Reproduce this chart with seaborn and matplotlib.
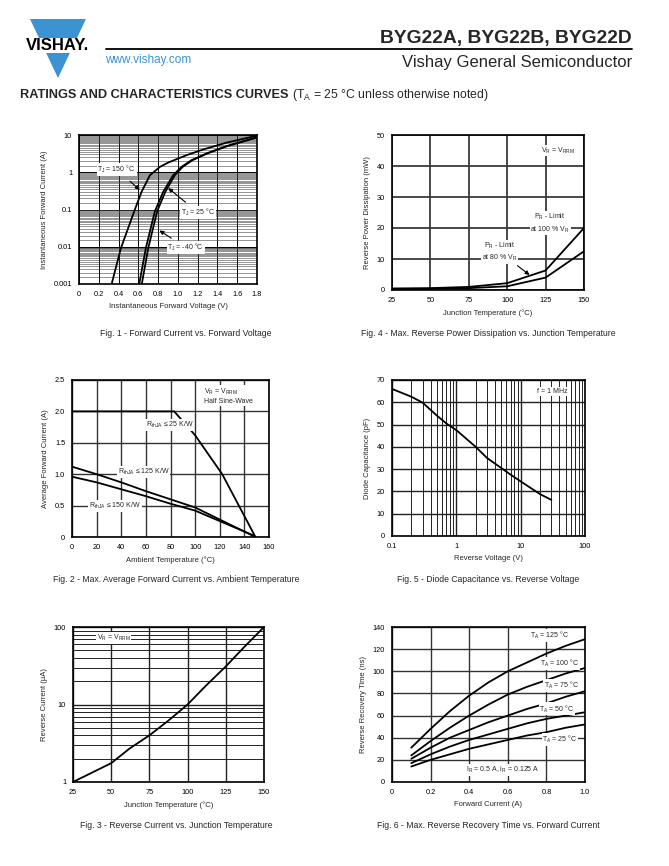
import numpy as np
import matplotlib
matplotlib.use('Agg')
import matplotlib.pyplot as plt
import seaborn as sns
from matplotlib.patches import Polygon, Rectangle
from matplotlib.lines import Line2D
from matplotlib.ticker import FixedLocator, NullFormatter

sns.set_theme(style='white')
plt.rcParams['font.family'] = ['Liberation Sans', 'DejaVu Sans']
plt.rcParams['mathtext.fontset'] = 'custom'
plt.rcParams['mathtext.rm'] = 'Liberation Sans'

# Fig. 1 - forward current vs forward voltage
vf_150 = [0.33, 0.424, 0.558, 0.632, 0.717, 0.818, 0.902, 1.087, 1.255, 1.49, 1.79]
if_150 = [0.001, 0.0092, 0.089, 0.295, 0.83, 1.39, 1.82, 2.87, 4.08, 6.2, 9.5]
vf_25 = [0.609, 0.676, 0.767, 0.851, 0.952, 1.036, 1.137, 1.289, 1.49, 1.79]
if_25 = [0.001, 0.0092, 0.089, 0.295, 0.83, 1.39, 2.1, 3.18, 5.0, 8.6]
vf_m40 = [0.635, 0.70, 0.79, 0.872, 0.968, 1.048, 1.145, 1.295, 1.495, 1.79]
if_m40 = [0.001, 0.0092, 0.089, 0.295, 0.83, 1.39, 2.1, 3.18, 5.0, 8.4]

# Fig. 4 - reverse power dissipation
tj4 = [25, 50, 75, 100, 125, 150]
pr_100 = [0.5, 0.6, 1.0, 2.2, 6.3, 20]
pr_80 = [0.3, 0.4, 0.6, 1.2, 4.0, 12.5]

# Fig. 2 - average forward current derating
ta_25 = [0, 83, 100, 122, 149]
iav_25 = [2.0, 2.0, 1.62, 1.0, 0.0]
ta_125 = [0, 20, 40, 60, 80, 100, 149]
iav_125 = [1.12, 1.0, 0.87, 0.73, 0.6, 0.47, 0.0]
ta_150 = [0, 20, 40, 60, 80, 100, 148]
iav_150 = [0.96, 0.87, 0.76, 0.65, 0.53, 0.42, 0.02]

# Fig. 5 - diode capacitance
vr5 = [0.1, 0.2, 0.3, 0.5, 0.7, 1, 2, 3, 5, 7, 10, 20, 30]
cd5 = [66, 62.5, 59.8, 54, 50.5, 47.5, 40, 35, 30.5, 27.5, 24.5, 18.8, 16.2]

# Fig. 3 - reverse current
tj3 = [25, 50, 62, 75, 87, 100, 112, 125, 137, 150]
ir3 = [1.0, 1.75, 2.7, 4.0, 6.1, 10, 17.5, 31, 55, 100]

# Fig. 6 - reverse recovery time
if6 = [0.1, 0.2, 0.3, 0.4, 0.5, 0.6, 0.7, 0.8, 0.9, 1.0]
trr_125 = [31, 48, 64, 78, 90, 100, 108, 116, 123, 129]
trr_100 = [24, 37, 49, 60, 70, 79, 86, 92, 98, 103]
trr_75 = [21, 31, 40, 47, 54, 60, 66, 71, 77, 82]
trr_50 = [17, 25, 32, 38, 43, 48, 53, 57, 60, 63]
trr_25 = [14, 20, 25, 30, 34, 38, 42, 45, 49, 52]

W, H = 669, 866
fig = plt.figure(figsize=(W / 100, H / 100), dpi=100)


def px(x, y):
    return x / W, 1 - y / H


def make_ax(l, t, r, b):
    ax = fig.add_axes([l / W, 1 - b / H, (r - l) / W, (b - t) / H])
    ax.set_facecolor('white')
    for s in ax.spines.values():
        s.set_color('black')
        s.set_linewidth(1.2)
        s.set_zorder(5)
    ax.tick_params(length=0, pad=5, labelsize=5.3, colors='black')
    ax.set_axisbelow(True)
    return ax


def curve(ax, x, y, lw=1.3):
    sns.lineplot(x=x, y=y, ax=ax, color='black', lw=lw, estimator=None, sort=False)


box = dict(boxstyle='square,pad=0.12', fc='white', ec='none')
arrow = dict(arrowstyle='-|>', color='black', lw=0.8, mutation_scale=6)
fs_note = 5.0
fs_lab = 5.5

# ---------- header ----------
blue = '#3b93d3'
fig.add_artist(Polygon([px(30, 19), px(86, 19), px(58, 78)], closed=True,
                       fc=blue, ec='none', transform=fig.transFigure))
fig.add_artist(Rectangle(px(20, 53), 82 / W, 15 / H, fc='white', ec='none',
                         transform=fig.transFigure))
fig.text(*px(58, 46), 'VISHAY.', fontsize=12, fontweight='bold', ha='center',
         va='center', color='black')
fig.add_artist(Line2D([106 / W, 632 / W], [1 - 49 / H, 1 - 49 / H], color='black',
                      lw=1.3, transform=fig.transFigure))
fig.text(*px(632, 38), 'BYG22A, BYG22B, BYG22D', fontsize=13.9, fontweight='bold',
         ha='right', va='center')
fig.text(*px(105, 60), 'www.vishay.com', fontsize=8.5, color=blue, ha='left', va='center')
fig.text(*px(632, 63), 'Vishay General Semiconductor', fontsize=12, ha='right', va='center')
fig.text(*px(20, 95), 'RATINGS AND CHARACTERISTICS CURVES', fontsize=9.2,
         fontweight='heavy', ha='left', va='center')
fig.text(*px(292, 95), r'(T$_\mathregular{A}$ = 25 °C unless otherwise noted)', fontsize=8.8,
         ha='left', va='center')

# ---------- Fig. 1 ----------
ax1 = make_ax(79, 135, 257, 284)
ax1.set_yscale('log')
ax1.set_xlim(0, 1.8)
ax1.set_ylim(0.001, 10)
ax1.set_xticks(np.arange(0, 1.81, 0.2))
ax1.set_xticklabels(['0', '0.2', '0.4', '0.6', '0.8', '1.0', '1.2', '1.4', '1.6', '1.8'])
ax1.set_yticks([0.001, 0.01, 0.1, 1, 10])
ax1.set_yticklabels(['0.001', '0.01', '0.1', '1', '10'])
minor1 = [m * 10.0 ** d for d in range(-3, 1) for m in np.arange(1.5, 10, 0.5)]
ax1.yaxis.set_minor_locator(FixedLocator(minor1))
ax1.yaxis.set_minor_formatter(NullFormatter())
ax1.grid(True, which='major', color='black', lw=0.7)
ax1.grid(True, which='minor', axis='y', color='#444444', lw=0.4)
curve(ax1, vf_150, if_150)
curve(ax1, vf_25, if_25)
curve(ax1, vf_m40, if_m40)
ax1.annotate(r'T$_\mathregular{J}$ = 150 °C', xy=(0.635, 0.3), xytext=(0.38, 1.2),
             fontsize=fs_note, ha='center', va='center', bbox=box,
             arrowprops=dict(arrow, shrinkA=6))
ax1.annotate(r'T$_\mathregular{J}$ = 25 °C', xy=(0.88, 0.42), xytext=(1.2, 0.085),
             fontsize=fs_note, ha='center', va='center', bbox=box,
             arrowprops=dict(arrow, shrinkA=4))
ax1.annotate(r'T$_\mathregular{J}$ = -40 °C', xy=(0.79, 0.03), xytext=(1.08, 0.0095),
             fontsize=fs_note, ha='center', va='center', bbox=box,
             arrowprops=dict(arrow, shrinkA=4))
ax1.set_xlabel('Instantaneous Forward Voltage (V)', fontsize=fs_lab, labelpad=4)
ax1.set_ylabel('Instantaneous Forward Current (A)', fontsize=fs_lab, labelpad=4)
fig.text(*px(186, 333), 'Fig. 1 - Forward Current vs. Forward Voltage', fontsize=6.2,
         ha='center', va='center')

# ---------- Fig. 4 ----------
ax4 = make_ax(392, 135, 584, 290)
ax4.set_xlim(25, 150)
ax4.set_ylim(0, 50)
ax4.set_xticks([25, 50, 75, 100, 125, 150])
ax4.set_yticks([0, 10, 20, 30, 40, 50])
ax4.grid(True, color='#3a3a3a', lw=1.3)
curve(ax4, tj4, pr_100)
curve(ax4, tj4, pr_80)
ax4.text(133, 45, r'V$_\mathregular{R}$ = V$_\mathregular{RRM}$', fontsize=fs_note,
         ha='center', va='center', bbox=box)
ax4.text(128, 21.5, 'P$_\\mathregular{R}$ - Limit\nat 100 % V$_\\mathregular{R}$',
         fontsize=fs_note, ha='center', va='center', bbox=box, linespacing=1.3)
ax4.annotate('P$_\\mathregular{R}$ - Limit\nat 80 % V$_\\mathregular{R}$', xy=(116, 4.3),
             xytext=(95, 12.3), fontsize=fs_note, ha='center', va='center', bbox=box,
             linespacing=1.3, arrowprops=dict(arrow, shrinkA=2))
ax4.set_xlabel('Junction Temperature (°C)', fontsize=fs_lab, labelpad=4)
ax4.set_ylabel('Reverse Power Dissipation (mW)', fontsize=fs_lab, labelpad=4)
fig.text(*px(488, 333), 'Fig. 4 - Max. Reverse Power Dissipation vs. Junction Temperature',
         fontsize=6.2, ha='center', va='center')

# ---------- Fig. 2 ----------
ax2 = make_ax(72, 380, 269, 537)
ax2.set_xlim(0, 160)
ax2.set_ylim(0, 2.5)
ax2.set_xticks(np.arange(0, 161, 20))
ax2.set_yticks([0, 0.5, 1.0, 1.5, 2.0, 2.5])
ax2.set_yticklabels(['0', '0.5', '1.0', '1.5', '2.0', '2.5'])
ax2.grid(True, color='#333333', lw=1.0)
curve(ax2, ta_25, iav_25)
curve(ax2, ta_125, iav_125)
curve(ax2, ta_150, iav_150)
ax2.text(107, 2.25, 'V$_\\mathregular{R}$ = V$_\\mathregular{RRM}$\nHalf Sine-Wave',
         fontsize=fs_note, ha='left', va='center', linespacing=1.2, bbox=box)
ax2.text(60, 1.78, r'R$_\mathregular{thJA}$ ≤ 25 K/W', fontsize=fs_note, ha='left',
         va='center', bbox=box)
ax2.text(58, 1.03, r'R$_\mathregular{thJA}$ ≤ 125 K/W', fontsize=fs_note, ha='center',
         va='center', bbox=box)
ax2.text(35, 0.5, r'R$_\mathregular{thJA}$ ≤ 150 K/W', fontsize=fs_note, ha='center',
         va='center', bbox=box)
ax2.set_xlabel('Ambient Temperature (°C)', fontsize=fs_lab, labelpad=4)
ax2.set_ylabel('Average Forward Current (A)', fontsize=fs_lab, labelpad=4)
fig.text(*px(176, 579), 'Fig. 2 - Max. Average Forward Current vs. Ambient Temperature',
         fontsize=6.2, ha='center', va='center')

# ---------- Fig. 5 ----------
ax5 = make_ax(392, 380, 585, 536)
ax5.set_xscale('log')
ax5.set_xlim(0.1, 100)
ax5.set_ylim(0, 70)
ax5.set_xticks([0.1, 1, 10, 100])
ax5.set_xticklabels(['0.1', '1', '10', '100'])
ax5.set_yticks(np.arange(0, 71, 10))
minor5 = [m * 10.0 ** d for d in range(-1, 2) for m in range(2, 10)]
ax5.xaxis.set_minor_locator(FixedLocator(minor5))
ax5.xaxis.set_minor_formatter(NullFormatter())
ax5.grid(True, which='major', color='#222222', lw=1.0)
ax5.grid(True, which='minor', axis='x', color='#222222', lw=0.7)
curve(ax5, vr5, cd5)
ax5.text(31, 64.8, 'f = 1 MHz', fontsize=fs_note, ha='center', va='center', bbox=box)
ax5.set_xlabel('Reverse Voltage (V)', fontsize=fs_lab, labelpad=4)
ax5.set_ylabel('Diode Capacitance (pF)', fontsize=fs_lab, labelpad=4)
fig.text(*px(488, 579), 'Fig. 5 - Diode Capacitance vs. Reverse Voltage',
         fontsize=6.2, ha='center', va='center')

# ---------- Fig. 3 ----------
ax3 = make_ax(73, 627, 264, 782)
ax3.set_yscale('log')
ax3.set_xlim(25, 150)
ax3.set_ylim(1, 100)
ax3.set_xticks([25, 50, 75, 100, 125, 150])
ax3.set_yticks([1, 10, 100])
ax3.set_yticklabels(['1', '10', '100'])
minor3 = [m * 10.0 ** d for d in range(0, 2) for m in range(2, 10)]
ax3.yaxis.set_minor_locator(FixedLocator(minor3))
ax3.yaxis.set_minor_formatter(NullFormatter())
ax3.grid(True, which='major', color='#222222', lw=1.0)
ax3.grid(True, which='minor', axis='y', color='#222222', lw=0.7)
curve(ax3, tj3, ir3)
ax3.text(51.5, 72, r'V$_\mathregular{R}$ = V$_\mathregular{RRM}$', fontsize=fs_note,
         ha='center', va='center', bbox=box)
ax3.set_xlabel('Junction Temperature (°C)', fontsize=fs_lab, labelpad=4)
ax3.set_ylabel('Reverse Current (µA)', fontsize=fs_lab, labelpad=4)
fig.text(*px(176, 825), 'Fig. 3 - Reverse Current vs. Junction Temperature',
         fontsize=6.2, ha='center', va='center')

# ---------- Fig. 6 ----------
ax6 = make_ax(392, 627, 585, 782)
ax6.set_xlim(0, 1.0)
ax6.set_ylim(0, 140)
ax6.set_xticks([0, 0.2, 0.4, 0.6, 0.8, 1.0])
ax6.set_xticklabels(['0', '0.2', '0.4', '0.6', '0.8', '1.0'])
ax6.set_yticks(np.arange(0, 141, 20))
ax6.grid(True, color='#333333', lw=1.0)
for trr in [trr_125, trr_100, trr_75, trr_50, trr_25]:
    curve(ax6, if6, trr)
for lab, xx, yy in [('125', 0.815, 132.5), ('100', 0.87, 107), ('75', 0.88, 87.5),
                    ('50', 0.855, 66), ('25', 0.87, 38.7)]:
    ax6.text(xx, yy, 'T$_\\mathregular{A}$ = ' + lab + ' °C', fontsize=fs_note,
             ha='center', va='center', bbox=box)
ax6.text(0.576, 10.5, r'I$_\mathregular{R}$ = 0.5 A, i$_\mathregular{R}$ = 0.125 A',
         fontsize=fs_note, ha='center', va='center', bbox=box)
ax6.set_xlabel('Forward Current (A)', fontsize=fs_lab, labelpad=4)
ax6.set_ylabel('Reverse Recovery Time (ns)', fontsize=fs_lab, labelpad=4)
fig.text(*px(488, 825), 'Fig. 6 - Max. Reverse Recovery Time vs. Forward Current',
         fontsize=6.2, ha='center', va='center')

fig.savefig('out.png', dpi=100)
